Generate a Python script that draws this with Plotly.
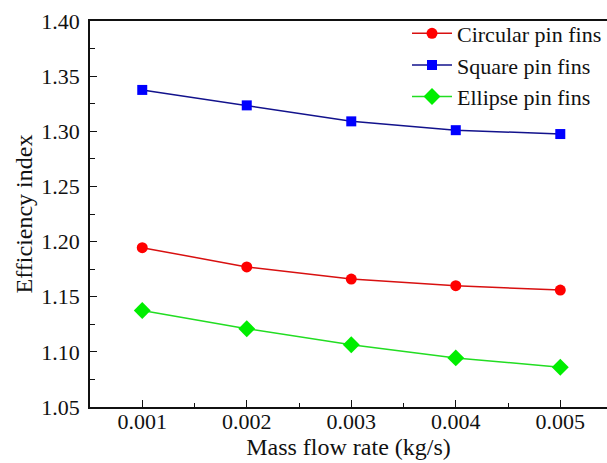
import plotly.graph_objects as go

# Mass flow rate (kg/s)
mass_flow = [0.001, 0.002, 0.003, 0.004, 0.005]

# Efficiency index for each pin-fin shape
circular = [1.1945, 1.177, 1.166, 1.160, 1.156]
square = [1.3375, 1.3235, 1.309, 1.301, 1.2975]
ellipse = [1.1375, 1.121, 1.1065, 1.0945, 1.086]

x_ticks = [0.001, 0.002, 0.003, 0.004, 0.005]
x_tick_labels = ["0.001", "0.002", "0.003", "0.004", "0.005"]
y_ticks = [1.05, 1.10, 1.15, 1.20, 1.25, 1.30, 1.35, 1.40]
y_tick_labels = ["1.05", "1.10", "1.15", "1.20", "1.25", "1.30", "1.35", "1.40"]

FONT = "Liberation Serif, Times New Roman, serif"

fig = go.Figure()
fig.add_trace(go.Scatter(
    x=mass_flow, y=circular, name="Circular pin fins", mode="lines+markers",
    line=dict(color="#d81010", width=1.5),
    marker=dict(symbol="circle", size=11, color="#ff0000"),
))
fig.add_trace(go.Scatter(
    x=mass_flow, y=square, name="Square pin fins", mode="lines+markers",
    line=dict(color="#12128c", width=1.5),
    marker=dict(symbol="square", size=10, color="#0000ff"),
))
fig.add_trace(go.Scatter(
    x=mass_flow, y=ellipse, name="Ellipse pin fins", mode="lines+markers",
    line=dict(color="#22dd22", width=1.5),
    marker=dict(symbol="diamond", size=13, color="#00ee00"),
))

fig.update_layout(
    width=607, height=463,
    margin=dict(l=90, r=0, t=21, b=56),
    paper_bgcolor="white", plot_bgcolor="white",
    font=dict(family=FONT, size=22, color="#111111"),
    showlegend=True,
    legend=dict(
        x=1.0, y=1.022, xanchor="right", yanchor="top",
        bgcolor="rgba(0,0,0,0)", font=dict(family=FONT, size=22),
        itemwidth=40, tracegroupgap=0,
    ),
    xaxis=dict(
        range=[0.0005, 0.005447],
        tickmode="array", tickvals=x_ticks, ticktext=x_tick_labels,
        ticks="inside", ticklen=7, tickwidth=1.2, tickcolor="#111111",
        minor=dict(ticks="inside", ticklen=4, tickwidth=1.2, tickcolor="#111111",
                   dtick=0.0005, tick0=0.0005, showgrid=False),
        showline=True, linecolor="#111111", linewidth=1.5, mirror=True,
        showgrid=False, zeroline=False,
        ticklabelstandoff=-6,
        title=dict(text="Mass flow rate (kg/s)", font=dict(family=FONT, size=24),
                   standoff=4),
        tickfont=dict(family=FONT, size=22),
    ),
    yaxis=dict(
        range=[1.05, 1.40],
        tickmode="array", tickvals=y_ticks, ticktext=y_tick_labels,
        ticks="inside", ticklen=7, tickwidth=1.2, tickcolor="#111111",
        minor=dict(ticks="inside", ticklen=5, tickwidth=1.2, tickcolor="#111111",
                   dtick=0.025, tick0=1.05, showgrid=False),
        showline=True, linecolor="#111111", linewidth=1.5, mirror=False,
        showgrid=False, zeroline=False,
        ticklabelstandoff=4,
        title=dict(text="Efficiency index", font=dict(family=FONT, size=24),
                   standoff=2),
        tickfont=dict(family=FONT, size=22),
    ),
)

fig.write_html("out.html")
